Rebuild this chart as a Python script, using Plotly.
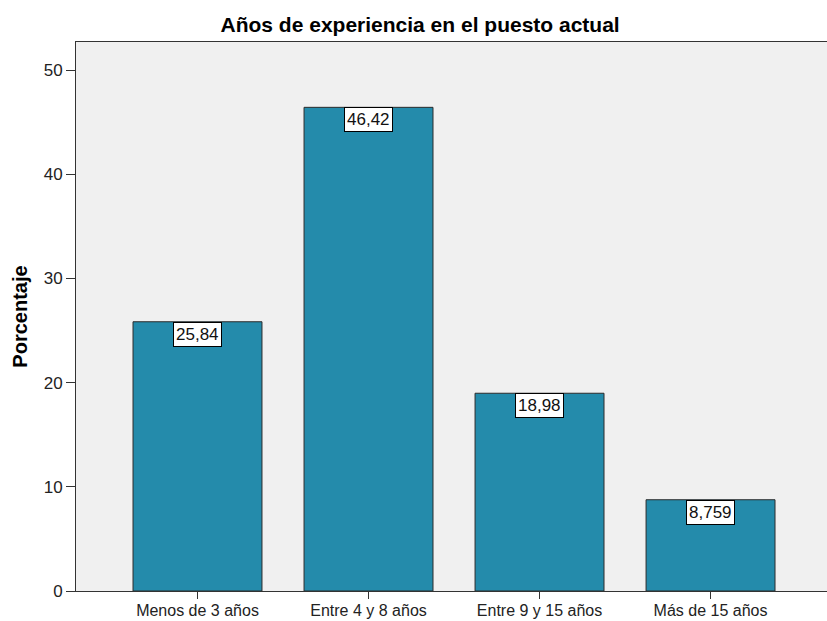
import plotly.graph_objects as go

# Datos
categorias = ["Menos de 3 años", "Entre 4 y 8 años", "Entre 9 y 15 años", "Más de 15 años"]
porcentajes = [25.84, 46.42, 18.98, 8.759]
ticks_y = [0, 10, 20, 30, 40, 50]

etiquetas = [f"{v:.4g}".replace(".", ",") for v in porcentajes]

FUENTE = "Liberation Sans, Arial, sans-serif"

fig = go.Figure()
fig.add_trace(go.Bar(
    x=list(range(len(categorias))),
    y=porcentajes,
    marker=dict(color="#248BAB", line=dict(color="#2b2b2b", width=1)),
    hoverinfo="skip",
))

for i, (v, t) in enumerate(zip(porcentajes, etiquetas)):
    fig.add_annotation(
        x=i, y=v, text=t, showarrow=False, yanchor="top", yshift=0,
        font=dict(family=FUENTE, size=17, color="#111"),
        bgcolor="white", bordercolor="#000", borderwidth=1, borderpad=2,
    )

fig.update_layout(
    template="none",
    width=827, height=621,
    margin=dict(l=76, r=0, t=42, b=30),
    paper_bgcolor="white", plot_bgcolor="#F0F0F0",
    bargap=0.246,
    showlegend=False,
    font=dict(family=FUENTE, color="#222"),
    title=dict(
        text="<b>Años de experiencia en el puesto actual</b>",
        x=0.508, xanchor="center", y=0.96, yanchor="middle",
        font=dict(size=21, color="#000"),
    ),
    xaxis=dict(
        range=[-0.7105, 3.681],
        tickmode="array", tickvals=list(range(len(categorias))), ticktext=categorias,
        ticks="outside", ticklen=7, tickwidth=1, tickcolor="#333",
        ticklabelstandoff=-2,
        showline=True, linecolor="#333", linewidth=1, mirror=True,
        showgrid=False, zeroline=False, automargin=False,
        tickfont=dict(size=16, color="#222"),
    ),
    yaxis=dict(
        range=[0, 52.69],
        tickmode="array", tickvals=ticks_y,
        ticks="outside", ticklen=9, tickwidth=1, tickcolor="#333",
        showline=True, linecolor="#333", linewidth=1,
        showgrid=False, zeroline=False, automargin=False,
        tickfont=dict(size=17, color="#222"),
        title=dict(text="<b>Porcentaje</b>", font=dict(size=20, color="#000"), standoff=10),
    ),
)

fig.write_html("out.html")
